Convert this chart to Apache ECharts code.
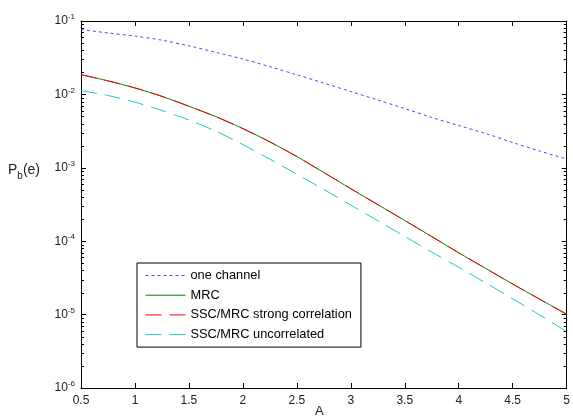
<!DOCTYPE html>
<html>
<head>
<meta charset="utf-8">
<script src="https://cdn.jsdelivr.net/npm/echarts@6/dist/echarts.min.js"></script>
<style>
html,body{margin:0;padding:0;background:#fff;}
#chart{width:573px;height:418px;}
</style>
</head>
<body>
<div id="chart"></div>
<script>
// ---- data ----
const A = [0.5,0.75,1,1.25,1.5,1.75,2,2.25,2.5,2.75,3,3.25,3.5,3.75,4,4.25,4.5,4.75,5];
const oneChannel = [0.0766,0.0687,0.0623,0.0548,0.0458,0.0374,0.0303,0.02385,0.01851,0.01426,0.01093,0.00839,0.00641,0.00485,0.00377,0.00293,0.00221,0.00169,0.00132];
const mrc = [0.01858,0.01528,0.01225,0.0094,0.0069,0.00497,0.00342,0.002254,0.001422,8.63e-4,5.19e-4,3.15e-4,1.914e-4,1.156e-4,6.95e-5,4.25e-5,2.61e-5,1.62e-5,1.02e-5];
const sscStrong = [0.01858,0.01528,0.01225,0.0094,0.0069,0.00497,0.00342,0.002254,0.001422,8.63e-4,5.19e-4,3.15e-4,1.914e-4,1.156e-4,6.95e-5,4.25e-5,2.61e-5,1.62e-5,1.0e-5];
const sscUncorr = [0.01125,0.00966,0.00783,0.00603,0.00448,0.00315,0.00207,0.001312,8.18e-4,5.07e-4,3.10e-4,1.905e-4,1.161e-4,7.11e-5,4.42e-5,2.70e-5,1.644e-5,9.89e-6,5.85e-6];
const seriesNames = ['one channel','MRC','SSC/MRC strong correlation','SSC/MRC uncorrelated'];
const seriesColors = ['#4a4aff','#008000','#ff0000','#20c8c8'];
const seriesDash = [[3,3],'solid',[16,8],[16,8]];
const xTicks = [0.5,1,1.5,2,2.5,3,3.5,4,4.5,5];
const yDecades = [-6,-5,-4,-3,-2,-1];
const minorMantissas = [2,3,4,5,6,7,8,9];

// ---- build ----
const pair = arr => A.map((a,i)=>[a,arr[i]]);
const minorVals = [];
yDecades.slice(0,-1).forEach(e => minorMantissas.forEach(m => minorVals.push([0.5, m*Math.pow(10,e)])));

const X0 = xTicks[0], X1 = xTicks[xTicks.length-1];
const YMIN = Math.pow(10, yDecades[0]), YMAX = Math.pow(10, yDecades[yDecades.length-1]);
const allData = [oneChannel, mrc, sscStrong, sscUncorr];

const chart = echarts.init(document.getElementById('chart'), null, {renderer:'canvas'});
const FONT = 'Liberation Sans, Arial, sans-serif';
const axisCommon = {
  axisLine:{show:true, lineStyle:{color:'#000', width:1}},
  axisTick:{show:true, inside:true, length:5, lineStyle:{color:'#000'}},
  splitLine:{show:false}
};
const lineSeries = seriesNames.map((n,i)=>({
  name:n, type:'line', data:pair(allData[i]), symbol:'none', smooth:0.3,
  lineStyle:{color:seriesColors[i], width:1, type:seriesDash[i]},
  itemStyle:{color:seriesColors[i]}, z: i>=2 ? 4 : 3
}));
chart.setOption({
  animation:false,
  backgroundColor:'#fff',
  grid:{left:81, right:2, top:21, bottom:30, containLabel:false},
  legend:{
    data: seriesNames.map((n,i)=>({
      name:n,
      itemStyle:{opacity:0, borderWidth:0},
      lineStyle:{color:seriesColors[i], width:1, type:seriesDash[i], opacity:1}
    })),
    orient:'vertical',
    left:137, top:263,
    padding:[6,9,6,8],
    itemWidth:40, itemHeight:12, itemGap:6.7,
    borderColor:'#000', borderWidth:1, backgroundColor:'#fff',
    textStyle:{fontFamily:FONT, fontSize:12.8, color:'#000'},
    selectedMode:false
  },
  xAxis:[
    Object.assign({}, axisCommon, {
      type:'value', min:X0, max:X1, interval:0.5, position:'bottom',
      axisLabel:{margin:7, color:'#222', fontFamily:FONT, fontSize:12, formatter:v=>String(v)}
    }),
    Object.assign({}, axisCommon, {
      type:'value', min:X0, max:X1, interval:0.5, position:'top',
      axisLabel:{show:false}
    })
  ],
  yAxis:[
    Object.assign({}, axisCommon, {
      type:'log', logBase:10, min:YMIN, max:YMAX, position:'left',
      axisLabel:{
        margin:6, color:'#222', fontFamily:FONT,
        formatter:v=>'{b|10}{e|'+Math.round(Math.log10(v))+'}',
        rich:{
          b:{fontSize:12, lineHeight:12, verticalAlign:'bottom', fontFamily:FONT, color:'#222'},
          e:{fontSize:8, lineHeight:8, padding:[0,0,6,0], verticalAlign:'bottom', fontFamily:FONT, color:'#222'}
        }
      }
    }),
    Object.assign({}, axisCommon, {
      type:'log', logBase:10, min:YMIN, max:YMAX, position:'right',
      axisLabel:{show:false}
    })
  ],
  graphic:[
    {type:'text', left:8, top:163, style:{
      text:'{p|P}{s|b}{p|(e)}', fontFamily:FONT,
      rich:{
        p:{fontSize:14, lineHeight:14, verticalAlign:'top', fontFamily:FONT, fill:'#222'},
        s:{fontSize:10, lineHeight:10, padding:[8,0,0,0], verticalAlign:'top', fontFamily:FONT, fill:'#222'}
      }
    }},
    {type:'text', left:315, top:405, style:{text:'A', fontFamily:FONT, fontSize:13, fill:'#222'}}
  ],
  series: lineSeries.concat([
    {name:'minorTicks', type:'custom', data:minorVals, silent:true, z:5, clip:false,
      renderItem:function(params, api){
        const v = api.value(1);
        const p1 = api.coord([X0, v]);
        const p2 = api.coord([X1, v]);
        const y = Math.round(p1[1]) + 0.5;
        return {type:'group', children:[
          {type:'line', shape:{x1:p1[0], y1:y, x2:p1[0]+3, y2:y}, style:{stroke:'#000', lineWidth:1}},
          {type:'line', shape:{x1:p2[0]-3, y1:y, x2:p2[0], y2:y}, style:{stroke:'#000', lineWidth:1}}
        ]};
      }
    }
  ])
});
</script>
</body>
</html>
